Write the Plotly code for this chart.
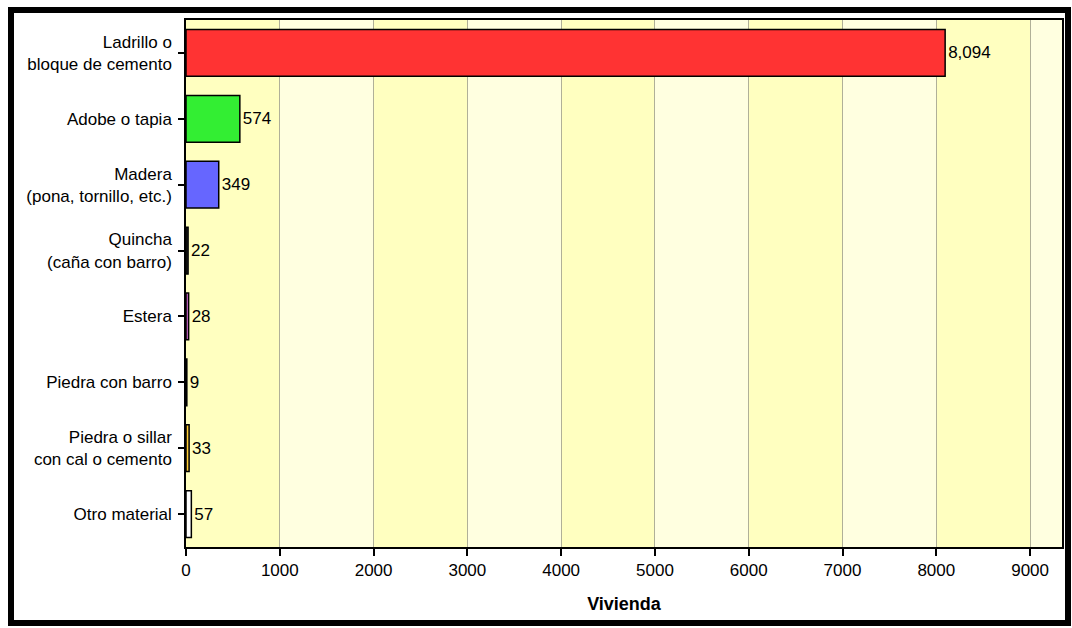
import plotly.graph_objects as go

categories = [
    "Ladrillo o<br>bloque de cemento",
    "Adobe o tapia",
    "Madera<br>(pona, tornillo, etc.)",
    "Quincha<br>(caña con barro)",
    "Estera",
    "Piedra con barro",
    "Piedra o sillar<br>con cal o cemento",
    "Otro material",
]
values = [8094, 574, 349, 22, 28, 9, 33, 57]
tick_vals = [0, 1000, 2000, 3000, 4000, 5000, 6000, 7000, 8000, 9000]
x_max = 9340

bar_colors = ["#FF3333", "#33EE33", "#6666FF", "#333333", "#CC66CC", "#222222", "#FFCC33", "#FFFFFF"]

FONT = "Liberation Sans, Arial, sans-serif"

fig = go.Figure()
fig.add_trace(go.Bar(
    y=categories,
    x=values,
    orientation="h",
    marker=dict(color=bar_colors, line=dict(color="#000000", width=1.5)),
    width=0.71,
    text=[f"{v:,}" for v in values],
    textposition="outside",
    textfont=dict(size=17, color="#000000", family=FONT),
    cliponaxis=False,
))

# alternating background bands between gridlines
edges = tick_vals + [x_max]
shapes = []
for i in range(len(edges) - 1):
    shapes.append(dict(
        type="rect", xref="x", yref="paper",
        x0=edges[i], x1=edges[i + 1], y0=0, y1=1,
        fillcolor="#FFFFC0" if i % 2 == 0 else "#FFFFE0",
        line=dict(width=0), layer="below",
    ))

# outer black frame around the whole picture
L, R, T, B = 186, 10, 20, 81
W, H = 1072, 628
pw, ph = W - L - R, H - T - B
def px(x):
    return (x - L) / pw
def py(y):
    return (H - B - y) / ph
shapes.append(dict(
    type="rect", xref="paper", yref="paper",
    x0=px(11), x1=px(1068), y0=py(623), y1=py(10),
    line=dict(color="#000000", width=6), fillcolor="rgba(0,0,0,0)", layer="above",
))

fig.update_layout(
    width=W, height=H,
    margin=dict(l=L, r=R, t=T, b=B, autoexpand=False),
    paper_bgcolor="#FFFFFF",
    plot_bgcolor="#FFFFE0",
    showlegend=False,
    shapes=shapes,
    font=dict(family=FONT, size=17, color="#000000"),
)
fig.update_xaxes(
    range=[0, x_max],
    tickvals=tick_vals,
    ticktext=[str(v) for v in tick_vals],
    showgrid=True, gridcolor="#B0B098", gridwidth=1,
    zeroline=False,
    showline=True, linecolor="#000000", linewidth=1.5, mirror=True,
    ticks="outside", ticklen=7, tickcolor="#000000", tickwidth=1.5,
    tickfont=dict(size=17, family=FONT),
    title=dict(text="<b>Vivienda</b>", font=dict(size=18, family=FONT), standoff=18),
)
fig.update_yaxes(
    categoryorder="array", categoryarray=categories,
    autorange="reversed",
    showgrid=False, zeroline=False,
    showline=True, linecolor="#000000", linewidth=1.5, mirror=True,
    ticks="outside", ticklen=6, tickcolor="#000000", tickwidth=1.5,
    tickfont=dict(size=17, family=FONT),
    ticklabelstandoff=3,
)

fig.write_html(
    "out.html",
    config={"displayModeBar": False},
    post_script="document.body.style.margin='0';document.body.style.overflow='hidden';",
)
